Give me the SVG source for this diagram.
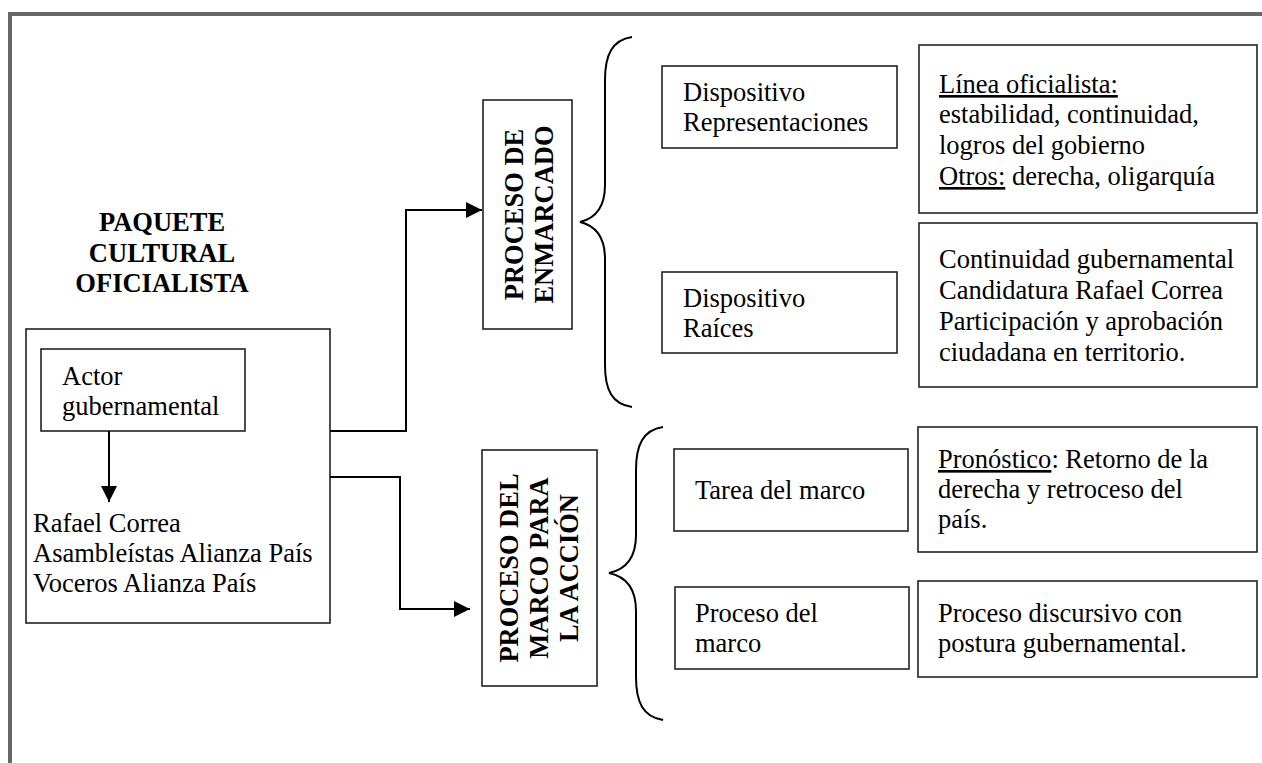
<svg xmlns="http://www.w3.org/2000/svg" width="1262" height="763" viewBox="0 0 1262 763">
<defs>
<style>
.t{font-family:"Liberation Serif","Times New Roman",serif;font-size:26.5px;fill:#000}
.b{font-family:"Liberation Serif","Times New Roman",serif;font-size:26.5px;font-weight:bold;fill:#000}
.box{fill:#fff;stroke:#222;stroke-width:1.6}
.con{fill:none;stroke:#000;stroke-width:2}
.brace{fill:none;stroke:#000;stroke-width:2}
.u{text-decoration:underline}
</style>
<marker id="arr" viewBox="0 0 16 16" refX="16" refY="8" markerWidth="16" markerHeight="16" markerUnits="userSpaceOnUse" orient="auto">
<path d="M0,0 L16,8 L0,16 Z" fill="#000"/>
</marker>
</defs>
<rect width="1262" height="763" fill="#fff"/>
<g id="frame">
<path d="M10,763 V14 H1262" fill="none" stroke="#666" stroke-width="4"/>
</g>
<g id="title">
<text class="b" text-anchor="middle" x="162" y="231">PAQUETE</text>
<text class="b" text-anchor="middle" x="162" y="262">CULTURAL</text>
<text class="b" text-anchor="middle" x="162" y="292">OFICIALISTA</text>
</g>
<g id="actor">
<rect class="box" x="26" y="329" width="304" height="294" stroke="#444"/>
<rect class="box" x="41" y="349" width="204" height="82"/>
<text class="t" x="62" y="385">Actor</text>
<text class="t" x="62" y="415">gubernamental</text>
<text class="t" x="33" y="532">Rafael Correa</text>
<text class="t" x="33" y="562">Asambleístas Alianza País</text>
<text class="t" x="33" y="592">Voceros Alianza País</text>
</g>
<g id="enmarcado">
<rect class="box" x="483" y="100" width="89" height="229"/>
<text class="b" text-anchor="middle" transform="translate(523,214.5) rotate(-90)">PROCESO DE</text>
<text class="b" text-anchor="middle" transform="translate(553,214.5) rotate(-90)">ENMARCADO</text>
</g>
<g id="accion">
<rect class="box" x="482" y="450" width="115" height="236"/>
<text class="b" text-anchor="middle" transform="translate(518,568) rotate(-90)">PROCESO DEL</text>
<text class="b" text-anchor="middle" transform="translate(548,568) rotate(-90)">MARCO PARA</text>
<text class="b" text-anchor="middle" transform="translate(578,568) rotate(-90)">LA ACCIÓN</text>
</g>
<g id="brace1">
<path class="brace" d="M632,37 C612,40 605,55 605,80 V185 C605,205 597,218 580,222 C597,226 605,239 605,259 V365 C605,390 612,404 632,407"/>
</g>
<g id="brace2">
<path class="brace" d="M663,427 C643,430 636,445 636,470 V535 C636,555 628,569 609,573 C628,577 636,591 636,611 V677 C636,702 643,717 663,720"/>
</g>
<g id="repres">
<rect class="box" x="662" y="66" width="235" height="82"/>
<text class="t" x="683" y="101">Dispositivo</text>
<text class="t" x="683" y="131">Representaciones</text>
</g>
<g id="raices">
<rect class="box" x="662" y="272" width="235" height="81"/>
<text class="t" x="683" y="307">Dispositivo</text>
<text class="t" x="683" y="337">Raíces</text>
</g>
<g id="linea">
<rect class="box" x="919" y="45" width="338" height="168"/>
<text class="t" x="939" y="93"><tspan class="u">Línea oficialista:</tspan></text>
<text class="t" x="939" y="123">estabilidad, continuidad,</text>
<text class="t" x="939" y="154">logros del gobierno</text>
<text class="t" x="939" y="185"><tspan class="u">Otros:</tspan> derecha, oligarquía</text>
</g>
<g id="continuidad">
<rect class="box" x="919" y="223" width="338" height="164"/>
<text class="t" x="939" y="268">Continuidad gubernamental</text>
<text class="t" x="939" y="299">Candidatura Rafael Correa</text>
<text class="t" x="939" y="330">Participación y aprobación</text>
<text class="t" x="939" y="361">ciudadana en territorio.</text>
</g>
<g id="tarea">
<rect class="box" x="674" y="449" width="234" height="82"/>
<text class="t" x="695" y="499">Tarea del marco</text>
</g>
<g id="procmarco">
<rect class="box" x="675" y="587" width="234" height="82"/>
<text class="t" x="695" y="622">Proceso del</text>
<text class="t" x="695" y="652">marco</text>
</g>
<g id="pronostico">
<rect class="box" x="918" y="427" width="339" height="125"/>
<text class="t" x="938" y="468"><tspan class="u">Pronóstico</tspan>: Retorno de la</text>
<text class="t" x="938" y="498">derecha y retroceso del</text>
<text class="t" x="938" y="528">país.</text>
</g>
<g id="discursivo">
<rect class="box" x="918" y="581" width="339" height="96"/>
<text class="t" x="938" y="622">Proceso discursivo con</text>
<text class="t" x="938" y="652">postura gubernamental.</text>
</g>
<g id="connectors">
<path class="con" d="M330,431 H406 V210 H482" marker-end="url(#arr)"/>
<path class="con" d="M330,477 H400 V609 H470" marker-end="url(#arr)"/>
<path class="con" d="M109,431 V502" marker-end="url(#arr)"/>
</g>
</svg>
